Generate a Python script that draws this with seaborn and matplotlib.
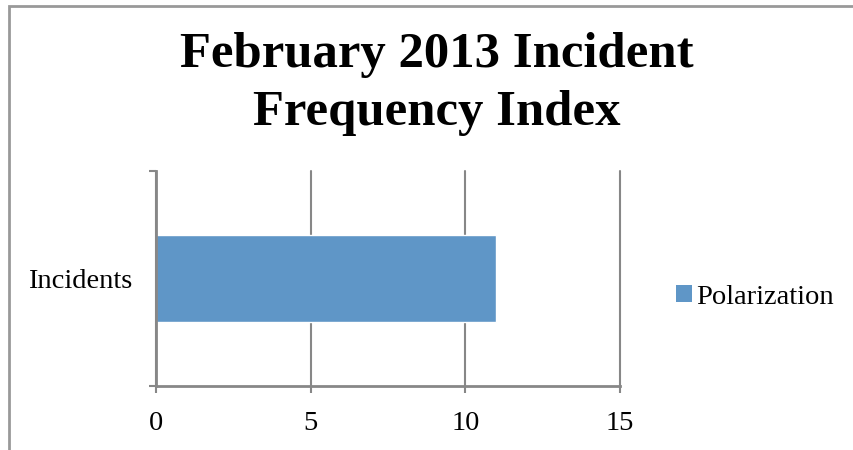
import matplotlib
matplotlib.use("Agg")
import matplotlib.pyplot as plt
import seaborn as sns
import pandas as pd
from matplotlib.patches import Rectangle, Patch

categories = ["Incidents"]
series_name = "Polarization"
values = [11]
x_ticks = [0, 5, 10, 15]

sns.set_theme(style="white")
plt.rcParams['font.family'] = ['Liberation Serif', 'DejaVu Serif']
plt.rcParams['text.color'] = 'black'
plt.rcParams['xtick.labelcolor'] = 'black'
plt.rcParams['ytick.labelcolor'] = 'black'

df = pd.DataFrame({"category": categories, "value": values, "series": [series_name] * len(values)})

W, H = 854, 450
fig = plt.figure(figsize=(W / 100, H / 100), dpi=100)
ax = fig.add_axes([156 / W, 1 - 386 / H, (620 - 156) / W, (386 - 171) / H])

bar_color = "#5F96C7"
grid_color = "#878787"

sns.barplot(data=df, x="value", y="category", orient="h", color=bar_color,
            width=0.405, ax=ax, saturation=1, legend=False)

ax.set_xlim(0, 15)
ax.set_ylim(0.5, -0.5)
ax.set_xticks(x_ticks)
ax.set_xticklabels([str(t) for t in x_ticks], fontsize=20.5)
ax.set_yticks([0])
ax.set_yticklabels(categories, fontsize=20.5)
ax.set_yticks([-0.5, 0.5], minor=True)
ax.tick_params(axis='y', which='major', length=0, pad=17)
ax.tick_params(axis='y', which='minor', length=5, width=1.5, color=grid_color, left=True)
ax.tick_params(axis='x', which='major', length=5, width=1.5, color=grid_color, bottom=True, pad=13)
ax.set_xlabel("")
ax.set_ylabel("")

ax.xaxis.grid(True, color=grid_color, linewidth=1.5)
for gl in ax.get_xgridlines():
    gl.set_clip_on(False)
ax.yaxis.grid(False)
ax.set_axisbelow(True)
for s in ["top", "right"]:
    ax.spines[s].set_visible(False)
for s in ["left", "bottom"]:
    ax.spines[s].set_color(grid_color)
    ax.spines[s].set_linewidth(2)
    ax.spines[s].set_zorder(3)

fig.text(437 / W, 1 - 84 / H, "February 2013 Incident\nFrequency Index", ha="center", va="center",
         fontsize=36.5, fontweight="bold", linespacing=1.32, color="black")

handles = [Patch(facecolor=bar_color, edgecolor="none", label=series_name)]
fig.legend(handles=handles, loc="center left", bbox_to_anchor=(665 / W, 1 - 297 / H),
           frameon=False, fontsize=20.5, handlelength=0.55, handleheight=0.55, handletextpad=0.15,
           borderaxespad=0)

border = Rectangle((9 / W, -0.1), 1.2, (1 - 6 / H) + 0.1, transform=fig.transFigure,
                   fill=False, edgecolor="#999999", linewidth=2)
fig.patches.append(border)

fig.savefig("out.png", dpi=100)
